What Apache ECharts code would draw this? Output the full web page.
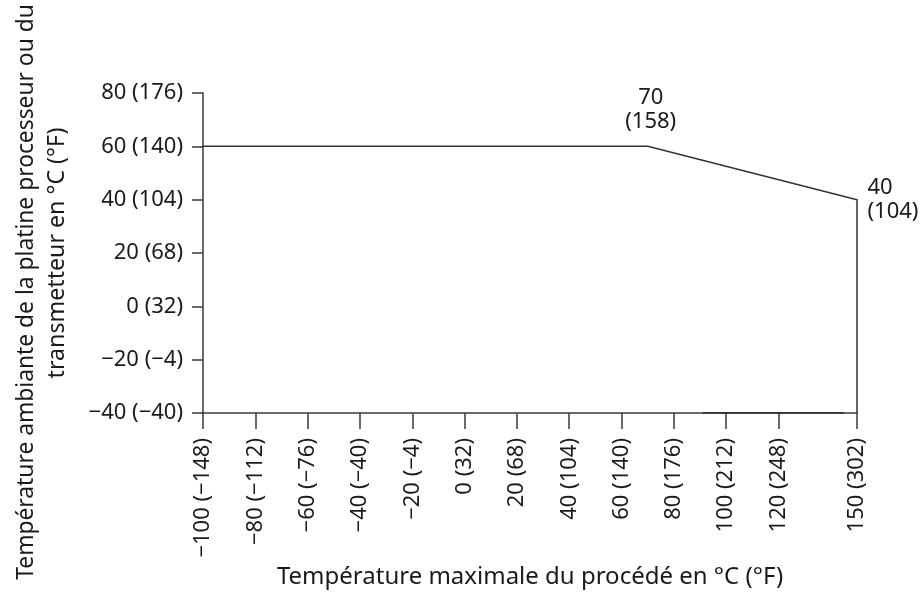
<!DOCTYPE html>
<html>
<head>
<meta charset="utf-8">
<script src="https://cdn.jsdelivr.net/npm/echarts@6/dist/echarts.min.js"></script>
<style>
  html, body { margin: 0; padding: 0; background: #fff; }
  #chart { width: 923px; height: 594px; }
</style>
</head>
<body>
<div id="chart"></div>
<script>
// derating curve: process temperature (x) vs allowed ambient temperature (y), °C
const procTemp = [-100, 70, 150, 150];
const ambTemp = [60, 60, 40, -40];
const pointLabels = ['', '70\n(158)', '40\n(104)', ''];

// short dark stretch drawn along the bottom edge
const edgeX = [91, 145];
const edgeY = [-40, -40];

const xTickValues = [-100, -80, -60, -40, -20, 0, 20, 40, 60, 80, 100, 120, 150];
const xTickLabels = ['−100 (−148)', '−80 (−112)', '−60 (−76)', '−40 (−40)', '−20 (−4)', '0 (32)',
  '20 (68)', '40 (104)', '60 (140)', '80 (176)', '100 (212)', '120 (248)', '150 (302)'];
const yTickValues = [-40, -20, 0, 20, 40, 60, 80];
const yTickLabels = ['−40 (−40)', '−20 (−4)', '0 (32)', '20 (68)', '40 (104)', '60 (140)', '80 (176)'];

const xName = 'Température maximale du procédé en °C (°F)';
const yNameLine1 = 'Température ambiante de la platine processeur ou du';
const yNameLine2 = 'transmetteur en °C (°F)';

const FONT = '"Noto Sans", "Open Sans", sans-serif';
const INK = '#3a3a3a';
const TXT = '#1a1a1a';

let chart = echarts.init(document.getElementById('chart'));

let curve = procTemp.map((x, i) => {
  let item = { value: [x, ambTemp[i]] };
  if (pointLabels[i]) {
    let top = i === 1;
    item.label = {
      show: true,
      formatter: pointLabels[i],
      position: top ? 'top' : 'right',
      distance: 10,
      offset: top ? [3, -2] : [0, 0],
      align: top ? 'center' : 'left',
      color: TXT,
      fontFamily: FONT,
      fontSize: 22,
      lineHeight: 24
    };
  }
  return item;
});

let option = {
  animation: false,
  backgroundColor: '#fff',
  grid: { left: 203, right: 66, top: 93, bottom: 181, containLabel: false, outerBoundsMode: 'none' },
  xAxis: {
    type: 'value',
    min: -100,
    max: 150,
    interval: 10,
    name: xName,
    nameLocation: 'middle',
    nameGap: 151,
    nameTextStyle: { color: TXT, fontFamily: FONT, fontSize: 24 },
    axisLine: { show: true, onZero: false, lineStyle: { color: INK, width: 1.5 } },
    axisTick: { show: true, length: 16, customValues: xTickValues, lineStyle: { color: INK, width: 1.5 } },
    axisLabel: {
      rotate: 90,
      margin: 25,
      customValues: xTickValues,
      formatter: v => xTickLabels[xTickValues.indexOf(v)] || '',
      color: TXT,
      fontFamily: FONT,
      fontSize: 22
    },
    splitLine: { show: false }
  },
  yAxis: {
    type: 'value',
    min: -40,
    max: 80,
    interval: 20,
    name: '{a|' + yNameLine1 + '}\n{b|' + yNameLine2 + '}',
    nameLocation: 'middle',
    nameGap: 130,
    nameTextStyle: {
      color: TXT,
      fontFamily: FONT,
      fontSize: 23,
      lineHeight: 31,
      rich: {
        a: { fontFamily: FONT, fontSize: 22.8, lineHeight: 31, color: TXT, padding: [0, 78, 0, 0] },
        b: { fontFamily: FONT, fontSize: 23.2, lineHeight: 31, color: TXT }
      }
    },
    axisLine: { show: true, onZero: false, lineStyle: { color: INK, width: 1.5 } },
    axisTick: { show: true, length: 11, lineStyle: { color: INK, width: 1.5 } },
    axisLabel: {
      margin: 20,
      formatter: v => yTickLabels[yTickValues.indexOf(v)] || '',
      color: TXT,
      fontFamily: FONT,
      fontSize: 22
    },
    splitLine: { show: false }
  },
  series: [
    {
      type: 'line',
      data: curve,
      symbol: 'circle',
      symbolSize: 1,
      showSymbol: true,
      itemStyle: { color: '#333' },
      lineStyle: { color: '#333', width: 1.5 },
      z: 3
    },
    {
      type: 'line',
      data: edgeX.map((x, i) => [x, edgeY[i]]),
      symbol: 'none',
      lineStyle: { color: '#222', width: 1.5 },
      z: 4
    }
  ]
};

chart.setOption(option);
</script>
</body>
</html>
